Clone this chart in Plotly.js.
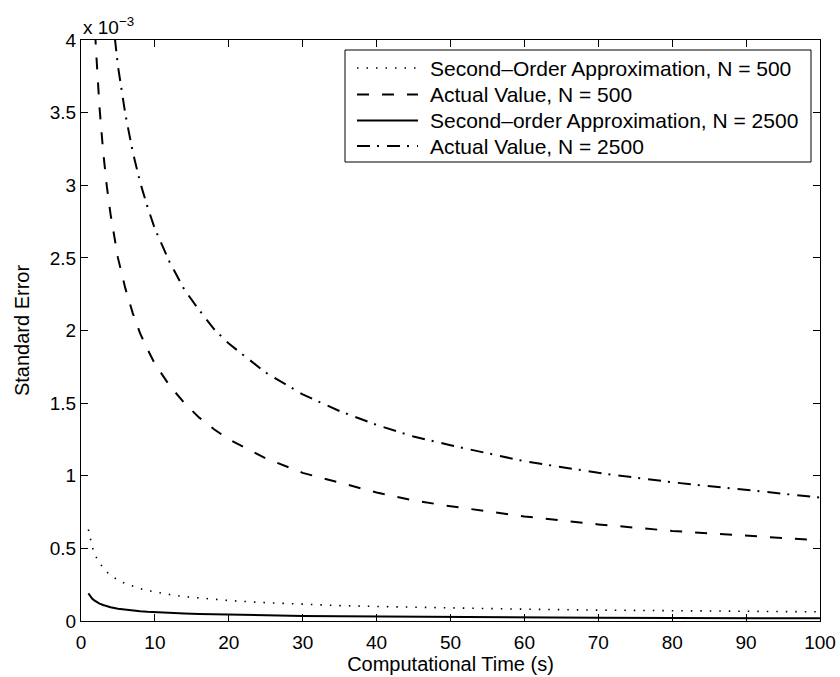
<!DOCTYPE html>
<html>
<head>
<meta charset="utf-8">
<script src="https://cdn.plot.ly/plotly-3.0.1.min.js"></script>
<style>html,body{margin:0;padding:0;background:#fff;}#chart{width:840px;height:677px;}</style>
</head>
<body>
<div id="chart"></div>
<script>
// Computational time (s)
const timeS = [1, 1.25, 1.5, 1.75, 2, 2.5, 3, 3.5, 4, 5, 6, 7, 8, 9, 10, 12, 14, 16, 18, 20, 25, 30, 35, 40, 45, 50, 60, 70, 80, 90, 100];
// Standard error, in units of 1e-3
const approx500 = [0.63, 0.563, 0.514, 0.476, 0.445, 0.398, 0.364, 0.337, 0.315, 0.282, 0.257, 0.238, 0.223, 0.21, 0.199, 0.182, 0.168, 0.158, 0.148, 0.141, 0.126, 0.115, 0.106, 0.10, 0.094, 0.089, 0.081, 0.075, 0.070, 0.066, 0.063];
const actual500 = [5.60, 5.01, 4.57, 4.23, 3.96, 3.54, 3.23, 2.99, 2.80, 2.50, 2.29, 2.12, 1.98, 1.87, 1.77, 1.62, 1.50, 1.40, 1.32, 1.25, 1.12, 1.02, 0.95, 0.885, 0.83, 0.79, 0.72, 0.665, 0.62, 0.585, 0.555];
const approx2500 = [0.19, 0.17, 0.155, 0.144, 0.134, 0.12, 0.11, 0.102, 0.095, 0.085, 0.078, 0.072, 0.067, 0.063, 0.060, 0.055, 0.051, 0.0475, 0.045, 0.0425, 0.038, 0.035, 0.032, 0.030, 0.028, 0.027, 0.0245, 0.023, 0.021, 0.020, 0.019];
const actual2500 = [8.55, 7.65, 6.98, 6.46, 6.05, 5.41, 4.94, 4.57, 4.28, 3.82, 3.49, 3.23, 3.02, 2.85, 2.70, 2.47, 2.28, 2.14, 2.01, 1.91, 1.71, 1.56, 1.445, 1.35, 1.27, 1.21, 1.10, 1.02, 0.955, 0.90, 0.85];
const seriesNames = ['Second–Order Approximation, N = 500', 'Actual Value, N = 500', 'Second–order Approximation, N = 2500', 'Actual Value, N = 2500'];
const xTicks = [0, 10, 20, 30, 40, 50, 60, 70, 80, 90, 100];
const yTicks = [0, 0.5, 1, 1.5, 2, 2.5, 3, 3.5, 4];
const yTickText = ['0', '0.5', '1', '1.5', '2', '2.5', '3', '3.5', '4'];

const FONT = 'Liberation Sans, Arial, Helvetica, sans-serif';
const lineStyles = [
  {color: '#000', width: 1.6, dash: '1.5px,8px'},
  {color: '#000', width: 2, dash: '12px,13px'},
  {color: '#000', width: 2, dash: 'solid'},
  {color: '#000', width: 2, dash: '13px,7px,2px,8px'}
];
const seriesY = [approx500, actual500, approx2500, actual2500];
const traces = seriesY.map((ys, i) => ({
  x: timeS, y: ys, name: seriesNames[i], mode: 'lines', line: lineStyles[i], showlegend: false
}));

// plot-area geometry (pixels) used only to place the hand-drawn legend box
const W = 840, H = 677, M = {l: 81, r: 20, t: 40, b: 56};
const pw = W - M.l - M.r, ph = H - M.t - M.b;
const px = v => (v - M.l) / pw;
const py = v => (H - M.b - v) / ph;

const shapes = [{
  type: 'rect', xref: 'paper', yref: 'paper',
  x0: px(345), x1: px(811), y0: py(162), y1: py(50),
  line: {color: '#000', width: 1}, fillcolor: '#fff', layer: 'above'
}];
const annotations = [{
  xref: 'paper', yref: 'paper', x: 0, y: 1, xanchor: 'left', yanchor: 'bottom',
  text: 'x 10<sup>−3</sup>', showarrow: false, font: {family: FONT, size: 19, color: '#000'}, yshift: 0
}];
const rowY = [68, 94.5, 120.5, 146];
seriesNames.forEach((n, i) => {
  shapes.push({
    type: 'line', xref: 'paper', yref: 'paper',
    x0: px(357), x1: px(418), y0: py(rowY[i]), y1: py(rowY[i]),
    line: lineStyles[i], layer: 'above'
  });
  annotations.push({
    xref: 'paper', yref: 'paper', x: px(428), y: py(rowY[i]), xanchor: 'left', yanchor: 'middle',
    text: n, showarrow: false, font: {family: FONT, size: 21, color: '#000'}
  });
});

const axisCommon = {
  showgrid: false, zeroline: false, showline: true, linecolor: '#000', linewidth: 1,
  mirror: 'ticks', ticks: 'inside', ticklen: 7, tickcolor: '#000', tickwidth: 1,
  tickfont: {family: FONT, size: 19, color: '#000'}
};

const layout = {
  width: W, height: H,
  paper_bgcolor: '#fff', plot_bgcolor: '#fff',
  margin: M,
  font: {family: FONT, color: '#000'},
  showlegend: false,
  xaxis: Object.assign({}, axisCommon, {
    range: [0, 100], tickvals: xTicks, ticktext: xTicks.map(String), ticklabelstandoff: 4,
    title: {text: 'Computational Time (s)', font: {family: FONT, size: 20, color: '#000'}, standoff: 4}
  }),
  yaxis: Object.assign({}, axisCommon, {
    range: [0, 4], tickvals: yTicks, ticktext: yTickText,
    title: {text: 'Standard Error', font: {family: FONT, size: 20, color: '#000'}, standoff: 14}
  }),
  shapes: shapes,
  annotations: annotations
};

Plotly.newPlot('chart', traces, layout, {displayModeBar: false, staticPlot: true});
</script>
</body>
</html>
